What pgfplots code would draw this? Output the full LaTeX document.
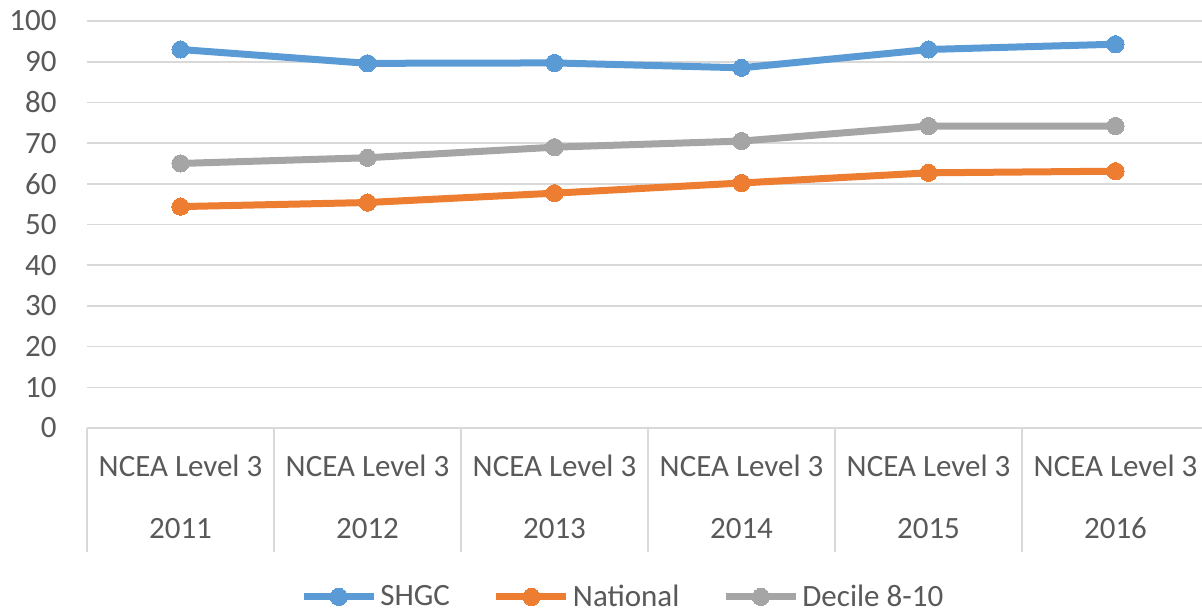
\documentclass[border=0pt]{standalone}
\usepackage{fontspec}
\setmainfont{Carlito}
\usepackage{pgfplots}
\pgfplotsset{compat=1.18}

\definecolor{shgc}{HTML}{5B9BD5}
\definecolor{natl}{HTML}{ED7D31}
\definecolor{dec}{HTML}{A5A5A5}
\definecolor{txt}{HTML}{595959}
\definecolor{gridc}{HTML}{D9D9D9}

\begin{document}
\begin{tikzpicture}
\useasboundingbox (0,0) rectangle (601pt,306pt);
\clip (0,0) rectangle (601pt,306pt);
\begin{axis}[
    at={(43.5pt,92pt)}, anchor=south west,
    scale only axis,
    width=561pt, height=203.5pt,
    clip=false,
    xmin=0.5, xmax=6.5,
    ymin=0, ymax=100,
    ytick={0,10,...,100},
    xtick={1,...,6},
    xticklabels={{NCEA Level 3\\[12.4pt]2011},{NCEA Level 3\\[12.4pt]2012},
                 {NCEA Level 3\\[12.4pt]2013},{NCEA Level 3\\[12.4pt]2014},
                 {NCEA Level 3\\[12.4pt]2015},{NCEA Level 3\\[12.4pt]2016}},
    xtick style={draw=none},
    ytick style={draw=none},
    axis line style={draw=none},
    ymajorgrids,
    grid style={gridc, line width=0.8pt},
    /pgf/number format/assume math mode=true,
    tick label style={font=\fontsize{15.5}{18.6}\selectfont, text=txt},
    yticklabel style={inner sep=0pt, xshift=-15pt},
    xticklabel style={align=center, inner sep=0pt, yshift=-13.5pt},
    legend columns=3,
    legend style={draw=none, at={(0.478,-0.415)}, anchor=center,
        font=\fontsize{15.5}{18.6}\selectfont, text=txt,
        nodes={inner sep=1.5pt},
        /tikz/every even column/.append style={column sep=20pt}},
    legend image code/.code={\draw[mark repeat=2,mark phase=2] plot coordinates {(0pt,0pt)(17.5pt,0pt)(35pt,0pt)};},
    every axis plot/.append style={line width=3.5pt, mark=*, mark size=4.3pt},
]
% category separators below the axis
\pgfplotsinvokeforeach{0.5,1.5,2.5,3.5,4.5,5.5,6.5}{
    \draw[gridc, line width=0.8pt] (axis cs:#1,0) -- ++(0pt,-62pt);
}
\addplot[shgc, mark options={fill=shgc, draw=shgc, line width=0pt}] coordinates {
    (1,93.0) (2,89.6) (3,89.7) (4,88.5) (5,93.0) (6,94.3)
};
\addplot[natl, mark options={fill=natl, draw=natl, line width=0pt}] coordinates {
    (1,54.4) (2,55.4) (3,57.7) (4,60.2) (5,62.7) (6,63.1)
};
\addplot[dec, mark options={fill=dec, draw=dec, line width=0pt}] coordinates {
    (1,65.0) (2,66.4) (3,69.0) (4,70.5) (5,74.2) (6,74.2)
};
\legend{SHGC, National, Decile 8-10}
\end{axis}
\end{tikzpicture}
\end{document}
